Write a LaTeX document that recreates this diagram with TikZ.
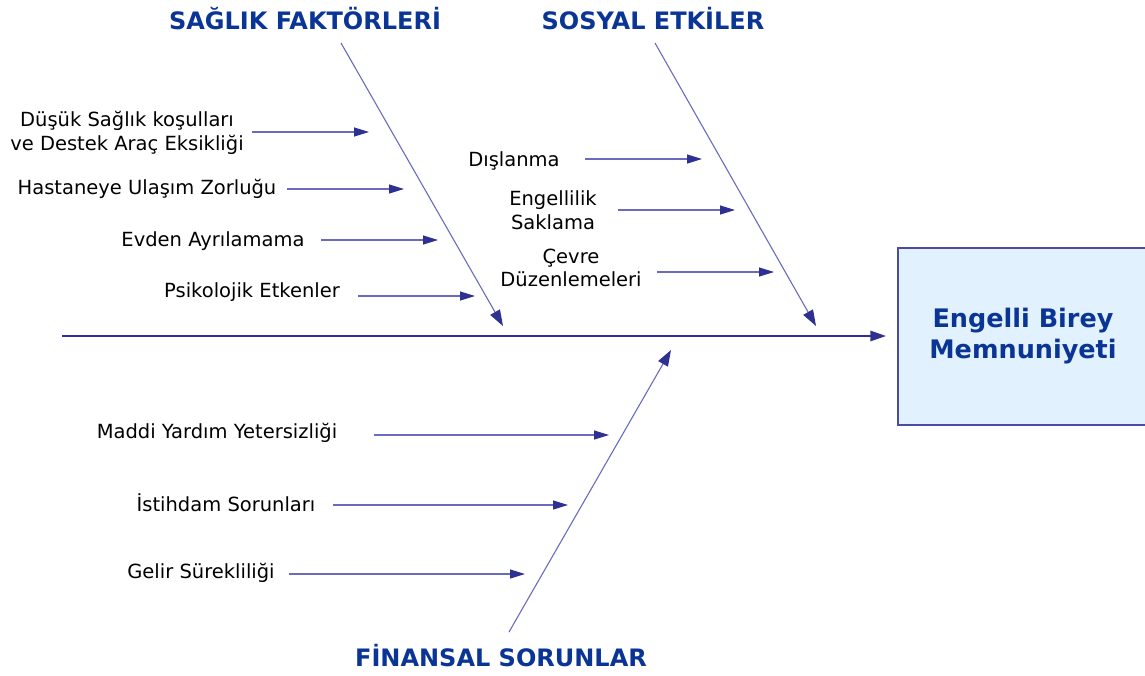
\documentclass[tikz,border=0pt]{standalone}
\usepackage{fontspec}
\setmainfont{DejaVu Sans}
\usetikzlibrary{arrows.meta}
\definecolor{navy}{HTML}{2E3192}
\definecolor{thinline}{HTML}{6A6ABF}
\definecolor{titleblue}{HTML}{0A3595}
\definecolor{boxfill}{HTML}{E1F1FD}
\definecolor{boxline}{HTML}{4B4BA5}
\tikzset{
  lbl/.style={font=\fontsize{19.5}{23.5}\selectfont, text=black, align=center, inner sep=0pt},
  ttl/.style={font=\fontsize{24}{28}\selectfont\bfseries, text=titleblue, inner sep=0pt},
  subarrow/.style={draw=thinline, line width=1.2pt, -{Triangle[length=15pt,width=9pt,color=navy]}},
  bone/.style={draw=thinline, line width=1.1pt, -{Triangle[length=16pt,width=11pt,color=navy]}},
  spine/.style={draw=navy, line width=2.8pt, -{Triangle[length=16pt,width=10pt]}},
  effect/.style={draw=boxline, line width=1.3pt, fill=boxfill, minimum width=250pt, minimum height=177pt,
    font=\fontsize{25.5}{31}\selectfont\bfseries, text=titleblue, align=center}
}
\begin{document}
\begin{tikzpicture}[x=1pt,y=-1pt]
\useasboundingbox (0,0) rectangle (1145,675);
% effect box
\node[effect] (box) at (1023,336.5) {Engelli Birey\\Memnuniyeti};
% spine
\coordinate (sp0) at (62,336);
\draw[spine, shorten >=11pt] (sp0) -- (box.west |- sp0);
% titles
\node[ttl] (T1) at (305,19) {SAĞLIK FAKTÖRLERİ};
\node[ttl] (T2) at (653,19) {SOSYAL ETKİLER};
\node[ttl] (T3) at (501,656) {FİNANSAL SORUNLAR};
% bones
\coordinate (b1s) at (341,43); \coordinate (b1e) at (503,326);
\coordinate (b2s) at (655,43); \coordinate (b2e) at (816,326);
\coordinate (b3s) at (509,632); \coordinate (b3e) at (671,350);
\draw[bone] (b1s) -- (b1e);
\draw[bone] (b2s) -- (b2e);
\draw[bone] (b3s) -- (b3e);
% Saglik labels
\node[lbl] (t1) at (127,133) {Düşük Sağlık koşulları\\ve Destek Araç Eksikliği};
\node[lbl] (t2) at (147,189) {Hastaneye Ulaşım Zorluğu};
\node[lbl] (t3) at (213,241) {Evden Ayrılamama};
\node[lbl] (t4) at (252,292) {Psikolojik Etkenler};
\coordinate (a1s) at (252,132); \coordinate (a1e) at (369,132);
\coordinate (a2s) at (287,189); \coordinate (a2e) at (404,189);
\coordinate (a3s) at (321,240); \coordinate (a3e) at (438,240);
\coordinate (a4s) at (358,296); \coordinate (a4e) at (475,296);
\draw[subarrow] (a1s) -- (a1e);
\draw[subarrow] (a2s) -- (a2e);
\draw[subarrow] (a3s) -- (a3e);
\draw[subarrow] (a4s) -- (a4e);
% Sosyal labels
\node[lbl] (s1) at (514,161) {Dışlanma};
\node[lbl] (s2) at (553,210) {Engellilik\\Saklama};
\node[lbl] (s3) at (571,268) {Çevre\\Düzenlemeleri};
\coordinate (c1s) at (585,159); \coordinate (c1e) at (702,159);
\coordinate (c2s) at (618,210); \coordinate (c2e) at (735,210);
\coordinate (c3s) at (657,272); \coordinate (c3e) at (774,272);
\draw[subarrow] (c1s) -- (c1e);
\draw[subarrow] (c2s) -- (c2e);
\draw[subarrow] (c3s) -- (c3e);
% Finansal labels
\node[lbl] (f1) at (217,433) {Maddi Yardım Yetersizliği};
\node[lbl] (f2) at (226,503) {İstihdam Sorunları};
\node[lbl] (f3) at (201,573) {Gelir Sürekliliği};
\coordinate (d1s) at (374,435); \coordinate (d1e) at (609,435);
\coordinate (d2s) at (333,505); \coordinate (d2e) at (568,505);
\coordinate (d3s) at (289,574); \coordinate (d3e) at (525,574);
\draw[subarrow] (d1s) -- (d1e);
\draw[subarrow] (d2s) -- (d2e);
\draw[subarrow] (d3s) -- (d3e);
\end{tikzpicture}
\end{document}
